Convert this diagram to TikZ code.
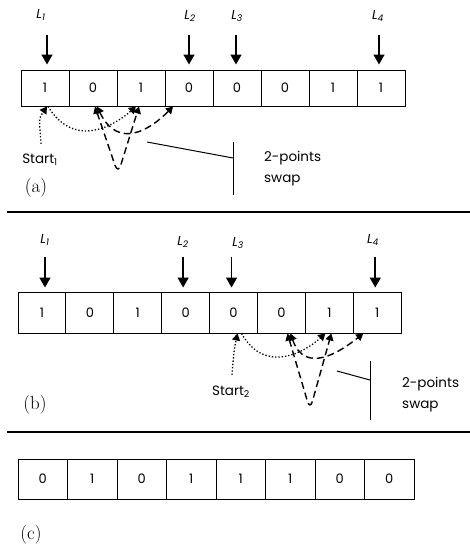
\documentclass[tikz,border=0pt]{standalone}
\usepackage{fontspec}
\newfontfamily\gothic{Poppins}
\usetikzlibrary{arrows.meta}
\begin{document}
\begin{tikzpicture}[x=1pt,y=-1pt,
  cell/.style={draw, line width=1pt, inner sep=0pt, font=\gothic\fontsize{13}{15}\selectfont},
  lab/.style={font=\gothic\itshape\fontsize{13}{15}\selectfont, inner sep=0pt},
  larrow/.style={line width=1.6pt, -{Triangle[length=10pt,width=11pt]}},
  dotarr/.style={line width=1.3pt, dotted, -{Triangle[length=7pt,width=8pt]}},
  dasharr/.style={line width=1.4pt, dash pattern=on 7pt off 4pt, {Triangle[length=7pt,width=8pt]}-{Triangle[length=7pt,width=8pt]}},
  txt/.style={font=\gothic\fontsize{13.5}{21}\selectfont, inner sep=0pt, align=left},
  pan/.style={font=\fontsize{19}{21}\selectfont, inner sep=0pt},
  bar/.style={line width=1pt},
  sep/.style={line width=1.5pt}]
\useasboundingbox (0,0) rectangle (470,555);

% ---------- panel (a) ----------
\foreach \v [count=\i] in {1,0,1,0,0,0,1,1}
  \node[cell, minimum width=48pt, minimum height=36pt] (a\i) at ({45+48*(\i-1)},88) {\v};
\node[lab] (La1) at (41,15) {L\textsubscript{1}};
\node[lab] (La2) at (190,16) {L\textsubscript{2}};
\node[lab] (La3) at (237,16) {L\textsubscript{3}};
\node[lab] (La4) at (378,16) {L\textsubscript{4}};
\draw[larrow] ([xshift=2pt,yshift=35pt]a1.north) -- ([xshift=2pt,yshift=5pt]a1.north);
\draw[larrow] ([yshift=35pt]a4.north) -- ([yshift=5pt]a4.north);
\draw[larrow] ([xshift=-1pt,yshift=35pt]a5.north) -- ([xshift=-1pt,yshift=5pt]a5.north);
\draw[larrow] ([xshift=-2pt,yshift=35pt]a8.north) -- ([xshift=-2pt,yshift=5pt]a8.north);

\node[txt] (S1) at (40,160) {Start\textsubscript{1}};
\coordinate (va) at (118,174);
\draw[dotarr] ([xshift=1pt,yshift=10pt]S1.north) .. controls (39,118) .. ([xshift=2pt]a1.south);
\draw[dotarr] ([xshift=3pt]a1.south) .. controls (75,150) and (115,125) .. ([xshift=-5pt]a3.south);
\draw[dasharr, rounded corners=9pt] ([xshift=2pt]a2.south) -- (va) -- ([xshift=-2pt]a3.south);
\draw[dasharr] ([xshift=4pt]a2.south) .. controls (118,150) and (150,130) .. ([xshift=-16pt]a4.south);

\coordinate (pa1) at (147,142);
\coordinate (pa2) at (233,158);
\coordinate (ta1) at (233,142);
\coordinate (ta2) at (233,195);
\draw[bar] (pa1) -- (pa2);
\draw[bar] (ta1) -- (ta2);
\node[txt, anchor=west] (SWa) at (264,169) {2-points\\swap};
\node[pan] (PA) at (36,188) {(a)};

\coordinate (s1l) at (7,212);
\coordinate (s1r) at (470,212);
\draw[sep] (s1l) -- (s1r);

% ---------- panel (b) ----------
\foreach \v [count=\i] in {1,0,1,0,0,0,1,1}
  \node[cell, minimum width=47.9pt, minimum height=41pt] (b\i) at ({41.95+47.9*(\i-1)},312.5) {\v};
\node[lab] (Lb1) at (45,240) {L\textsubscript{1}};
\node[lab] (Lb2) at (183,242) {L\textsubscript{2}};
\node[lab] (Lb3) at (238,243) {L\textsubscript{3}};
\node[lab] (Lb4) at (373,240) {L\textsubscript{4}};
\draw[larrow] ([xshift=3pt,yshift=35pt]b1.north) -- ([xshift=3pt,yshift=4pt]b1.north);
\draw[larrow] ([xshift=-2.5pt,yshift=35pt]b4.north) -- ([xshift=-2.5pt,yshift=4pt]b4.north);
\draw[larrow] ([xshift=-2pt,yshift=35pt]b5.north) -- ([xshift=-2pt,yshift=4pt]b5.north);
\draw[larrow] ([xshift=-2pt,yshift=35pt]b8.north) -- ([xshift=-2pt,yshift=4pt]b8.north);

\node[txt] (S2) at (231,392) {Start\textsubscript{2}};
\coordinate (vb) at (310,410);
\draw[dotarr] ([xshift=1pt,yshift=11pt]S2.north) .. controls (234,350) .. ([xshift=4pt]b5.south);
\draw[dotarr] ([xshift=8pt]b5.south) .. controls (265,375) and (305,352) .. ([xshift=-4pt]b7.south);
\draw[dasharr, rounded corners=9pt] ([xshift=6pt]b6.south) -- (vb) -- ([xshift=2pt]b7.south);
\draw[dasharr] ([xshift=9pt]b6.south) .. controls (305,375) and (340,352) .. ([xshift=-14pt]b8.south);

\coordinate (pb1) at (337,371);
\coordinate (pb2) at (370,380);
\coordinate (tb1) at (370,361);
\coordinate (tb2) at (370,420);
\draw[bar] (pb1) -- (pb2);
\draw[bar] (tb1) -- (tb2);
\node[txt, anchor=west] (SWb) at (402,395) {2-points\\swap};
\node[pan] (PB) at (35,405) {(b)};

\coordinate (s2l) at (7,432);
\coordinate (s2r) at (470,432);
\draw[sep] (s2l) -- (s2r);

% ---------- panel (c) ----------
\foreach \v [count=\i] in {0,1,0,1,1,1,0,0}
  \node[cell, minimum width=49.5pt, minimum height=40pt] (c\i) at ({42.75+49.5*(\i-1)},479) {\v};
\node[pan] (PC) at (31,535) {(c)};
\end{tikzpicture}
\end{document}
